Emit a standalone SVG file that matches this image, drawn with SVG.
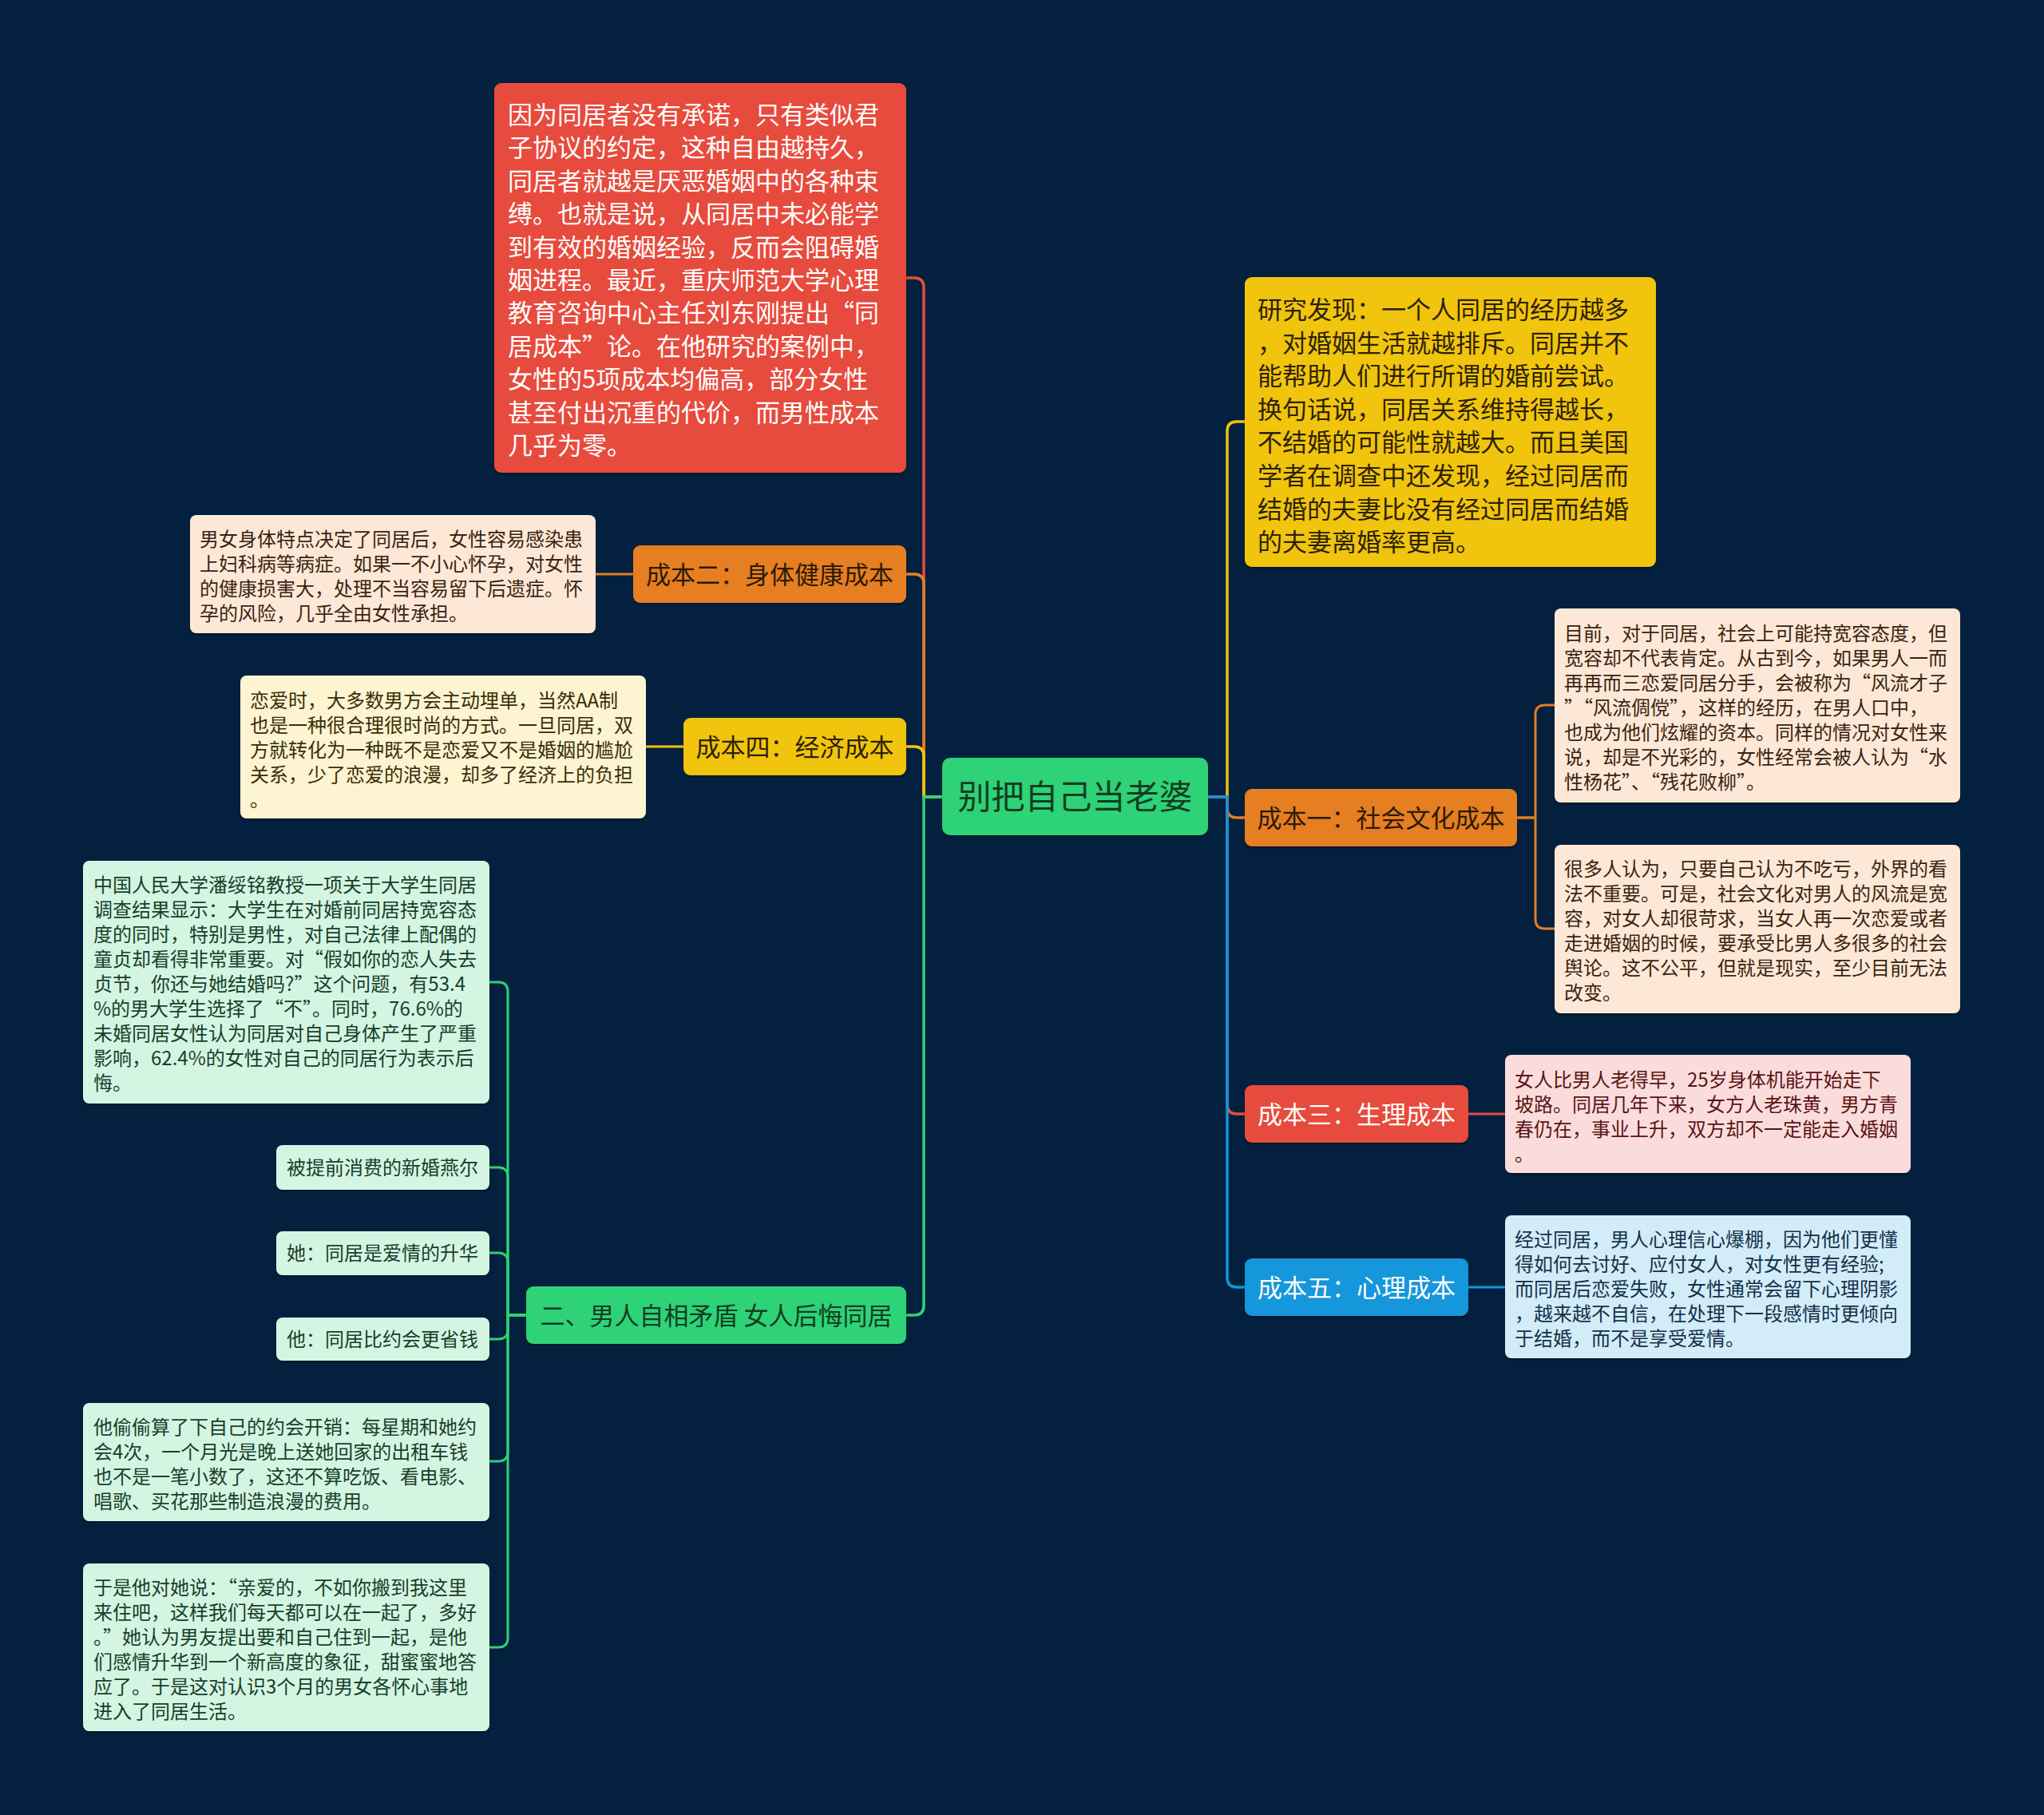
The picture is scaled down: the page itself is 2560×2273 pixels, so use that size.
<svg xmlns="http://www.w3.org/2000/svg" width="2560" height="2273" viewBox="0 0 2560 2273">
<defs>
<filter id="sh" x="-5%" y="-5%" width="110%" height="115%"><feDropShadow dx="0" dy="2" stdDeviation="1.2" flood-color="#000" flood-opacity="0.4"/></filter>
<style>
text{font-family:"Noto Sans CJK SC","Noto Sans",sans-serif;}
.n rect{filter:url(#sh);}
.t31{font-size:31px;}
.t24{font-size:24px;}
.t42{font-size:42px;}
.c{fill:none;stroke-width:3.5;stroke-linejoin:miter;}
.c2{fill:none;stroke-width:3;stroke-linejoin:round;}
</style>
</defs>
<rect width="2560" height="2273" fill="#03213f"/>

<g id="connectors">
<path class="c" stroke="#e74c3c" d="M1180,998 H1157 V360 Q1157,348 1145,348 H1135"/>
<path class="c" stroke="#e67e22" d="M1180,998 H1157 V731 Q1157,719 1145,719 H1135"/>
<path class="c" stroke="#f1c40f" d="M1180,998 H1157 V947 Q1157,935 1145,935 H1135"/>
<path class="c" stroke="#2fd277" d="M1180,998 H1157 V1635 Q1157,1647 1145,1647 H1135"/>
<path class="c" stroke="#f1c40f" d="M1513,998 H1537 V540 Q1537,528 1549,528 H1559"/>
<path class="c" stroke="#e67e22" d="M1513,998 H1537 V1012 Q1537,1024 1549,1024 H1559"/>
<path class="c" stroke="#e74c3c" d="M1513,998 H1537 V1383 Q1537,1395 1549,1395 H1559"/>
<path class="c" stroke="#1296db" d="M1513,998 H1537 V1600 Q1537,1612 1549,1612 H1559"/>
<path class="c2" stroke="#e67e22" d="M793,719 H746"/>
<path class="c2" stroke="#f1c40f" d="M856,935 H809"/>
<path class="c2" stroke="#e67e22" d="M1900,1024 H1923 V895 Q1923,883 1935,883 H1947"/>
<path class="c2" stroke="#e67e22" d="M1900,1024 H1923 V1151 Q1923,1163 1935,1163 H1947"/>
<path class="c2" stroke="#e74c3c" d="M1839,1395 H1885"/>
<path class="c2" stroke="#1296db" d="M1839,1612 H1885"/>
<path class="c2" stroke="#2fd277" d="M659,1647 H636 V1242 Q636,1230 624,1230 H613"/>
<path class="c2" stroke="#2fd277" d="M659,1647 H636 V1474 Q636,1462 624,1462 H613"/>
<path class="c2" stroke="#2fd277" d="M659,1647 H636 V1581 Q636,1569 624,1569 H613"/>
<path class="c2" stroke="#2fd277" d="M659,1647 H636 V1665 Q636,1677 624,1677 H613"/>
<path class="c2" stroke="#2fd277" d="M659,1647 H636 V1818 Q636,1830 624,1830 H613"/>
<path class="c2" stroke="#2fd277" d="M659,1647 H636 V2051 Q636,2063 624,2063 H613"/>
</g>

<g id="root" class="n">
<rect x="1180" y="949" width="333" height="97" rx="10" fill="#2fd277"/>
<text class="t42" x="1346.5" y="1013" text-anchor="middle" fill="#123d22">别把自己当老婆</text>
</g>

<g id="red-box" class="n">
<rect x="619" y="104" width="516" height="488" rx="9" fill="#e74c3c"/>
<text class="t31" fill="#ffffff">
<tspan x="636" y="155">因为同居者没有承诺，只有类似君</tspan>
<tspan x="636" y="196.4">子协议的约定，这种自由越持久，</tspan>
<tspan x="636" y="237.8">同居者就越是厌恶婚姻中的各种束</tspan>
<tspan x="636" y="279.2">缚。也就是说，从同居中未必能学</tspan>
<tspan x="636" y="320.6">到有效的婚姻经验，反而会阻碍婚</tspan>
<tspan x="636" y="362">姻进程。最近，重庆师范大学心理</tspan>
<tspan x="636" y="403.4">教育咨询中心主任刘东刚提出“同</tspan>
<tspan x="636" y="444.8">居成本”论。在他研究的案例中，</tspan>
<tspan x="636" y="486.2">女性的5项成本均偏高，部分女性</tspan>
<tspan x="636" y="527.6">甚至付出沉重的代价，而男性成本</tspan>
<tspan x="636" y="569">几乎为零。</tspan>
</text>
</g>

<g id="cost2" class="n">
<rect x="793" y="683" width="342" height="72" rx="9" fill="#e67e22"/>
<text class="t31" x="964" y="731" text-anchor="middle" fill="#2b1a05">成本二：身体健康成本</text>
</g>
<g id="cost2-text" class="n">
<rect x="238" y="645" width="508" height="148" rx="8" fill="#fde8d7"/>
<text class="t24" fill="#3a2410">
<tspan x="250" y="684">男女身体特点决定了同居后，女性容易感染患</tspan>
<tspan x="250" y="715">上妇科病等病症。如果一不小心怀孕，对女性</tspan>
<tspan x="250" y="746">的健康损害大，处理不当容易留下后遗症。怀</tspan>
<tspan x="250" y="777">孕的风险，几乎全由女性承担。</tspan>
</text>
</g>

<g id="cost4" class="n">
<rect x="856" y="899" width="279" height="72" rx="9" fill="#f1c40f"/>
<text class="t31" x="995.5" y="947" text-anchor="middle" fill="#2b2205">成本四：经济成本</text>
</g>
<g id="cost4-text" class="n">
<rect x="301" y="846" width="508" height="179" rx="8" fill="#fdf4d2"/>
<text class="t24" fill="#3a2e08">
<tspan x="313" y="886">恋爱时，大多数男方会主动埋单，当然AA制</tspan>
<tspan x="313" y="917">也是一种很合理很时尚的方式。一旦同居，双</tspan>
<tspan x="313" y="948">方就转化为一种既不是恋爱又不是婚姻的尴尬</tspan>
<tspan x="313" y="979">关系，少了恋爱的浪漫，却多了经济上的负担</tspan>
<tspan x="313" y="1010">。</tspan>
</text>
</g>

<g id="branch2" class="n">
<rect x="659" y="1611" width="476" height="72" rx="9" fill="#2fd277"/>
<text class="t31" x="897" y="1659" text-anchor="middle" fill="#123d22">二、男人自相矛盾 女人后悔同居</text>
</g>
<g id="survey" class="n">
<rect x="104" y="1078" width="509" height="304" rx="8" fill="#d5f5e3"/>
<text class="t24" fill="#17402a">
<tspan x="117" y="1117">中国人民大学潘绥铭教授一项关于大学生同居</tspan>
<tspan x="117" y="1148">调查结果显示：大学生在对婚前同居持宽容态</tspan>
<tspan x="117" y="1179">度的同时，特别是男性，对自己法律上配偶的</tspan>
<tspan x="117" y="1210">童贞却看得非常重要。对“假如你的恋人失去</tspan>
<tspan x="117" y="1241">贞节，你还与她结婚吗?”这个问题，有53.4</tspan>
<tspan x="117" y="1272">%的男大学生选择了“不”。同时，76.6%的</tspan>
<tspan x="117" y="1303">未婚同居女性认为同居对自己身体产生了严重</tspan>
<tspan x="117" y="1334">影响，62.4%的女性对自己的同居行为表示后</tspan>
<tspan x="117" y="1365">悔。</tspan>
</text>
</g>
<g id="honeymoon" class="n">
<rect x="346" y="1434" width="267" height="56" rx="8" fill="#d5f5e3"/>
<text class="t24" x="359" y="1471" fill="#17402a">被提前消费的新婚燕尔</text>
</g>
<g id="she" class="n">
<rect x="346" y="1542" width="267" height="55" rx="8" fill="#d5f5e3"/>
<text class="t24" x="359" y="1578" fill="#17402a">她：同居是爱情的升华</text>
</g>
<g id="he" class="n">
<rect x="346" y="1650" width="267" height="54" rx="8" fill="#d5f5e3"/>
<text class="t24" x="359" y="1686" fill="#17402a">他：同居比约会更省钱</text>
</g>
<g id="expense" class="n">
<rect x="104" y="1757" width="509" height="148" rx="8" fill="#d5f5e3"/>
<text class="t24" fill="#17402a">
<tspan x="117" y="1796">他偷偷算了下自己的约会开销：每星期和她约</tspan>
<tspan x="117" y="1827">会4次，一个月光是晚上送她回家的出租车钱</tspan>
<tspan x="117" y="1858">也不是一笔小数了，这还不算吃饭、看电影、</tspan>
<tspan x="117" y="1889">唱歌、买花那些制造浪漫的费用。</tspan>
</text>
</g>
<g id="movein" class="n">
<rect x="104" y="1958" width="509" height="210" rx="8" fill="#d5f5e3"/>
<text class="t24" fill="#17402a">
<tspan x="117" y="1997">于是他对她说：“亲爱的，不如你搬到我这里</tspan>
<tspan x="117" y="2028">来住吧，这样我们每天都可以在一起了，多好</tspan>
<tspan x="117" y="2059">。”她认为男友提出要和自己住到一起，是他</tspan>
<tspan x="117" y="2090">们感情升华到一个新高度的象征，甜蜜蜜地答</tspan>
<tspan x="117" y="2121">应了。于是这对认识3个月的男女各怀心事地</tspan>
<tspan x="117" y="2152">进入了同居生活。</tspan>
</text>
</g>

<g id="yellow-box" class="n">
<rect x="1559" y="347" width="515" height="363" rx="9" fill="#f1c40f"/>
<text class="t31" fill="#2b2205">
<tspan x="1575" y="399">研究发现：一个人同居的经历越多</tspan>
<tspan x="1575" y="440.6">，对婚姻生活就越排斥。同居并不</tspan>
<tspan x="1575" y="482.2">能帮助人们进行所谓的婚前尝试。</tspan>
<tspan x="1575" y="523.8">换句话说，同居关系维持得越长，</tspan>
<tspan x="1575" y="565.4">不结婚的可能性就越大。而且美国</tspan>
<tspan x="1575" y="607">学者在调查中还发现，经过同居而</tspan>
<tspan x="1575" y="648.6">结婚的夫妻比没有经过同居而结婚</tspan>
<tspan x="1575" y="690.2">的夫妻离婚率更高。</tspan>
</text>
</g>

<g id="cost1" class="n">
<rect x="1559" y="988" width="341" height="72" rx="9" fill="#e67e22"/>
<text class="t31" x="1729.5" y="1036" text-anchor="middle" fill="#2b1a05">成本一：社会文化成本</text>
</g>
<g id="cost1-text1" class="n">
<rect x="1947" y="762" width="508" height="243" rx="8" fill="#fde8d7"/>
<text class="t24" fill="#3a2410">
<tspan x="1959" y="802">目前，对于同居，社会上可能持宽容态度，但</tspan>
<tspan x="1959" y="833">宽容却不代表肯定。从古到今，如果男人一而</tspan>
<tspan x="1959" y="864">再再而三恋爱同居分手，会被称为“风流才子</tspan>
<tspan x="1959" y="895">”“风流倜傥”，这样的经历，在男人口中，</tspan>
<tspan x="1959" y="926">也成为他们炫耀的资本。同样的情况对女性来</tspan>
<tspan x="1959" y="957">说，却是不光彩的，女性经常会被人认为“水</tspan>
<tspan x="1959" y="988">性杨花”、“残花败柳”。</tspan>
</text>
</g>
<g id="cost1-text2" class="n">
<rect x="1947" y="1058" width="508" height="211" rx="8" fill="#fde8d7"/>
<text class="t24" fill="#3a2410">
<tspan x="1959" y="1097">很多人认为，只要自己认为不吃亏，外界的看</tspan>
<tspan x="1959" y="1128">法不重要。可是，社会文化对男人的风流是宽</tspan>
<tspan x="1959" y="1159">容，对女人却很苛求，当女人再一次恋爱或者</tspan>
<tspan x="1959" y="1190">走进婚姻的时候，要承受比男人多很多的社会</tspan>
<tspan x="1959" y="1221">舆论。这不公平，但就是现实，至少目前无法</tspan>
<tspan x="1959" y="1252">改变。</tspan>
</text>
</g>

<g id="cost3" class="n">
<rect x="1559" y="1359" width="280" height="72" rx="9" fill="#e74c3c"/>
<text class="t31" x="1699" y="1407" text-anchor="middle" fill="#ffffff">成本三：生理成本</text>
</g>
<g id="cost3-text" class="n">
<rect x="1885" y="1321" width="508" height="148" rx="8" fill="#fbdcdc"/>
<text class="t24" fill="#5a1414">
<tspan x="1897" y="1361">女人比男人老得早，25岁身体机能开始走下</tspan>
<tspan x="1897" y="1392">坡路。同居几年下来，女方人老珠黄，男方青</tspan>
<tspan x="1897" y="1423">春仍在，事业上升，双方却不一定能走入婚姻</tspan>
<tspan x="1897" y="1454">。</tspan>
</text>
</g>

<g id="cost5" class="n">
<rect x="1559" y="1576" width="280" height="72" rx="9" fill="#1296db"/>
<text class="t31" x="1699" y="1624" text-anchor="middle" fill="#ffffff">成本五：心理成本</text>
</g>
<g id="cost5-text" class="n">
<rect x="1885" y="1522" width="508" height="179" rx="8" fill="#d2ecf8"/>
<text class="t24" fill="#14304a">
<tspan x="1897" y="1561">经过同居，男人心理信心爆棚，因为他们更懂</tspan>
<tspan x="1897" y="1592">得如何去讨好、应付女人，对女性更有经验;</tspan>
<tspan x="1897" y="1623">而同居后恋爱失败，女性通常会留下心理阴影</tspan>
<tspan x="1897" y="1654">，越来越不自信，在处理下一段感情时更倾向</tspan>
<tspan x="1897" y="1685">于结婚，而不是享受爱情。</tspan>
</text>
</g>
</svg>
